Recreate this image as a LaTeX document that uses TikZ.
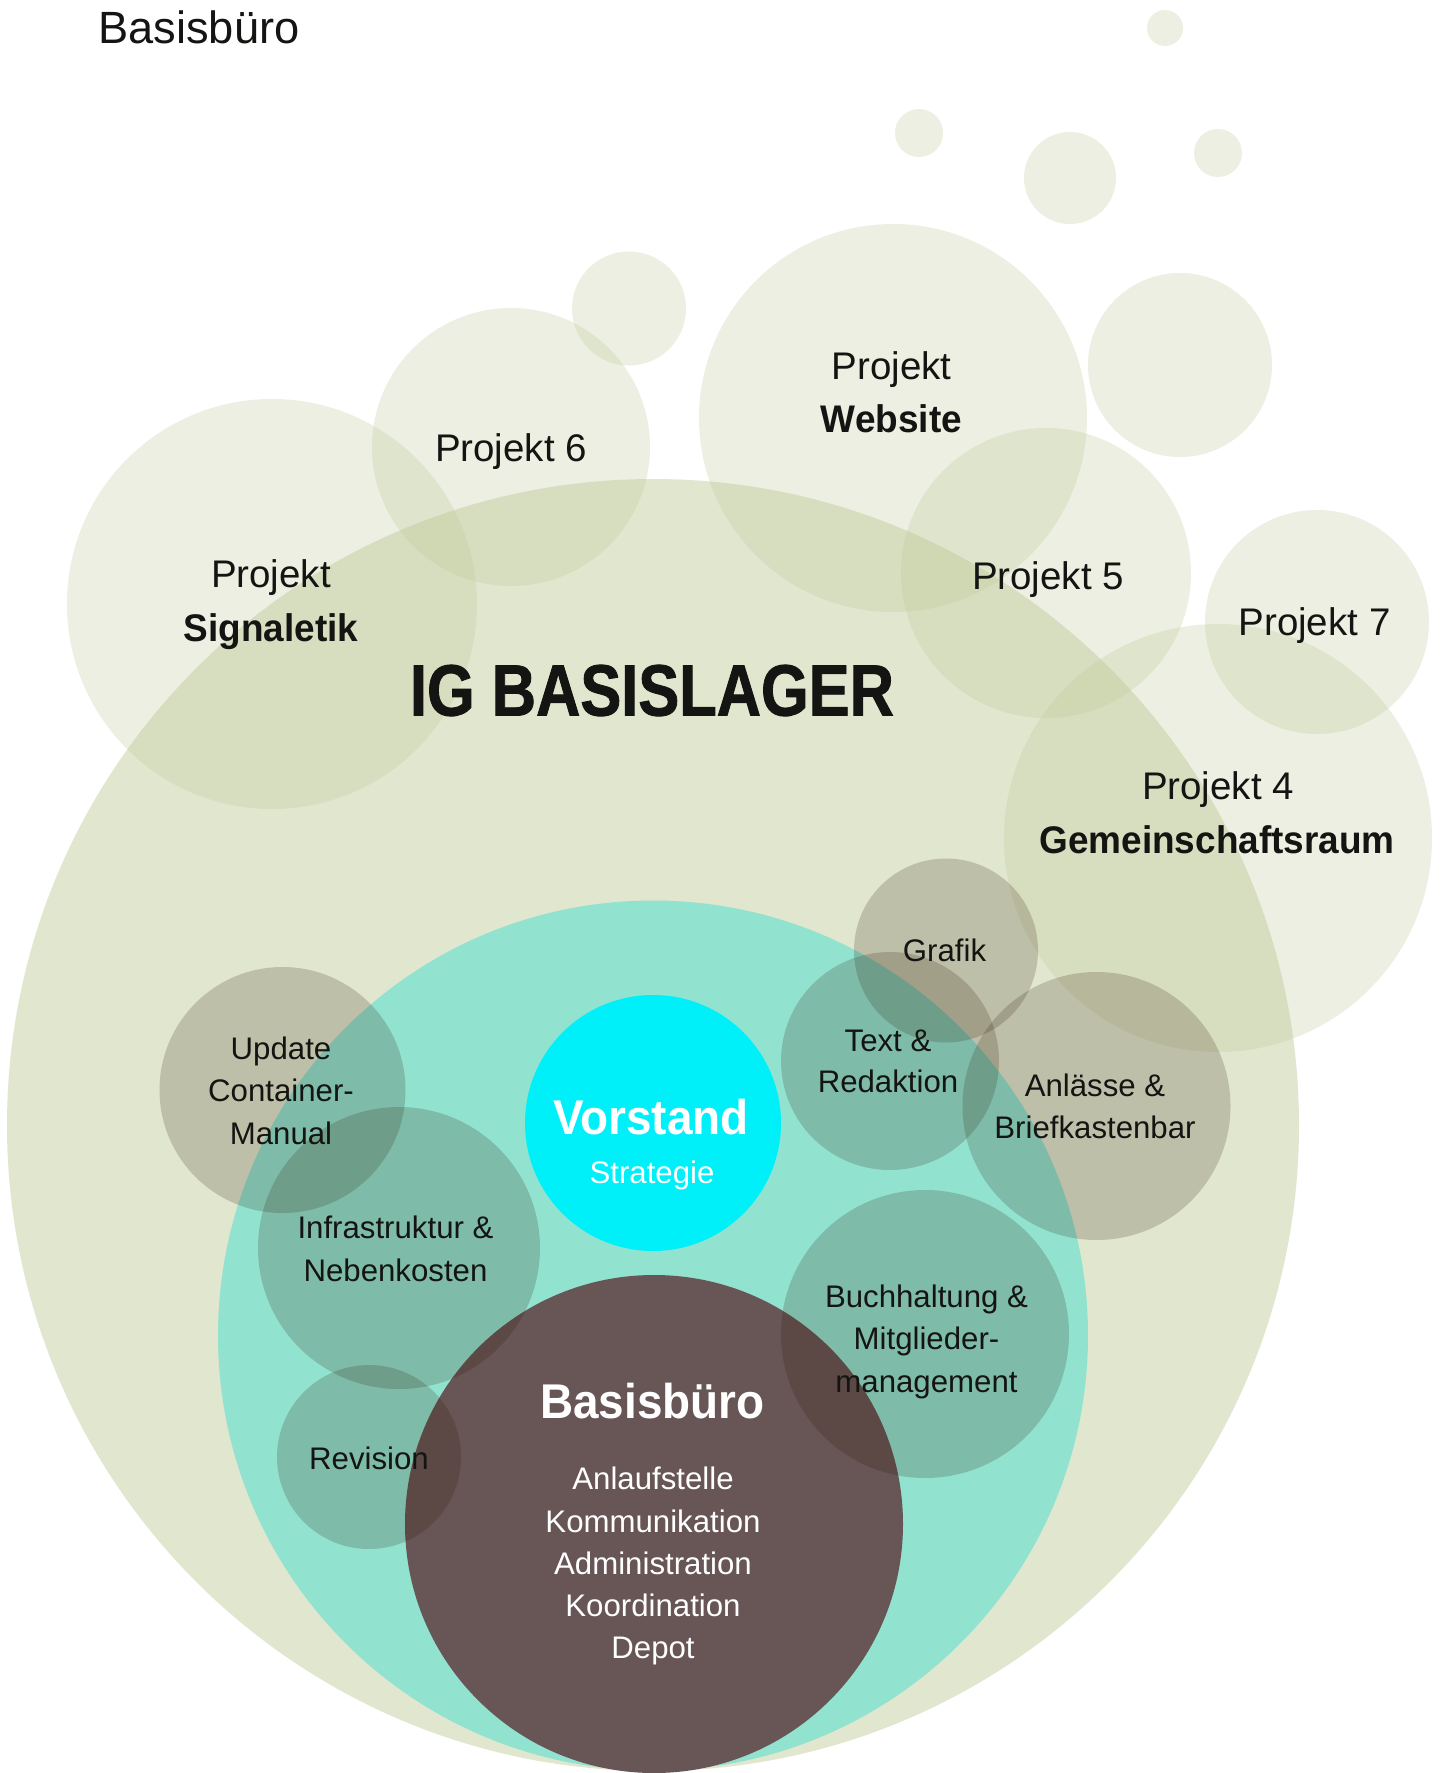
\documentclass[tikz,border=0pt]{standalone}
\usepackage{fontspec}
\setmainfont{Liberation Sans}
\newfontfamily\bfam{Liberation Sans}[FakeStretch=0.96]
\newfontfamily\hfam{Liberation Sans}[FakeStretch=0.94]
\newfontfamily\igfam{Liberation Sans}[FakeStretch=0.845,FakeBold=1.2]
\definecolor{olivec}{RGB}{190,200,150}
\definecolor{tealc}{RGB}{146,226,208}
\definecolor{cyanc}{RGB}{0,240,250}
\definecolor{darkc}{RGB}{104,85,85}
\definecolor{shadec}{RGB}{40,20,0}
\definecolor{ink}{RGB}{20,20,18}
\tikzset{
  bigc/.style={fill=olivec, fill opacity=0.45},
  projc/.style={fill=olivec, fill opacity=0.28},
  shade/.style={fill=shadec, fill opacity=0.184},
  txt/.style={anchor=base, inner sep=0pt, text=ink},
  projt/.style={txt, font=\fontsize{19.25}{23}\selectfont},
  projb/.style={txt, font=\bfam\bfseries\fontsize{19.25}{23}\selectfont},
  smallt/.style={txt, font=\fontsize{15.6}{19}\selectfont},
  whitet/.style={txt, text=white, font=\fontsize{15.6}{19}\selectfont},
  headt/.style={txt, text=white, font=\hfam\bfseries\fontsize{24.4}{28}\selectfont},
}
\begin{document}
\begin{tikzpicture}[x=0.5pt,y=-0.5pt]
\useasboundingbox (0,0) rectangle (1441,1773);
\fill[white] (0,0) rectangle (1441,1773);
% big IG circle
\fill[bigc] (653,1125) circle[radius=646];
% project circles
\fill[projc] (272,604) circle[radius=205];
\fill[projc] (511,447) circle[radius=139];
\fill[projc] (629,308.5) circle[radius=57];
\fill[projc] (893,418) circle[radius=194];
\fill[projc] (1180,365) circle[radius=92];
\fill[projc] (1046,573) circle[radius=145];
\fill[projc] (1317,622) circle[radius=112];
\fill[projc] (1218,838) circle[radius=214];
\fill[projc] (1165,28) circle[radius=18];
\fill[projc] (919,133) circle[radius=24];
\fill[projc] (1070,178) circle[radius=46];
\fill[projc] (1218,153) circle[radius=24];
% core
\fill[tealc] (653,1335.5) circle[radius=435];
\fill[cyanc] (653,1123) circle[radius=128];
\fill[darkc] (654,1524) circle[radius=249];
% working groups
\fill[shade] (282.5,1090) circle[radius=123];
\fill[shade] (399,1248) circle[radius=141];
\fill[shade] (369,1457) circle[radius=92];
\fill[shade] (946,950.5) circle[radius=92];
\fill[shade] (890,1061) circle[radius=109];
\fill[shade] (1096.5,1106) circle[radius=134];
\fill[shade] (925,1334) circle[radius=144];
% texts
\node[txt, anchor=base west, font=\fontsize{22.6}{26}\selectfont] (title) at (98,43) {Basisbüro};
\node[projt] (sig1) at (271,587) {Projekt};
\node[projb] (sig2) at (271,641) {Signaletik};
\node[projt] (p6) at (511,461) {Projekt 6};
\node[projt] (web1) at (891.5,379) {Projekt};
\node[projb] (web2) at (891.5,432) {Website};
\node[projt] (p5) at (1048,589) {Projekt 5};
\node[projt] (p7) at (1314.5,635) {Projekt 7};
\node[projt] (p41) at (1218,799) {Projekt 4};
\node[projb] (p42) at (1217,853) {Gemeinschaftsraum};
\node[txt, font=\igfam\bfseries\fontsize{36.3}{40}\selectfont] (ig) at (652,715.5) {IG BASISLAGER};
\node[smallt] (graf) at (944.5,961) {Grafik};
\node[smallt] (tr1) at (888,1051) {Text \&};
\node[smallt] (tr2) at (888,1092) {Redaktion};
\node[smallt] (an1) at (1095,1096) {Anlässe \&};
\node[smallt] (an2) at (1095,1138) {Briefkastenbar};
\node[smallt] (up1) at (281,1059) {Update};
\node[smallt] (up2) at (281,1101) {Container-};
\node[smallt] (up3) at (281,1144) {Manual};
\node[smallt] (inf1) at (395.5,1238) {Infrastruktur \&};
\node[smallt] (inf2) at (395.5,1281) {Nebenkosten};
\node[headt] (vor) at (651,1134) {Vorstand};
\node[whitet] (strat) at (652,1183) {Strategie};
\node[smallt] (bu1) at (926.5,1307) {Buchhaltung \&};
\node[smallt] (bu2) at (926.5,1349) {Mitglieder-};
\node[smallt] (bu3) at (926.5,1392) {management};
\node[smallt] (rev) at (369,1469) {Revision};
\node[headt] (bb) at (652.5,1418) {Basisbüro};
\node[whitet] (l1) at (653,1489) {Anlaufstelle};
\node[whitet] (l2) at (653,1532) {Kommunikation};
\node[whitet] (l3) at (653,1574) {Administration};
\node[whitet] (l4) at (653,1616) {Koordination};
\node[whitet] (l5) at (653,1658) {Depot};
\end{tikzpicture}
\end{document}
